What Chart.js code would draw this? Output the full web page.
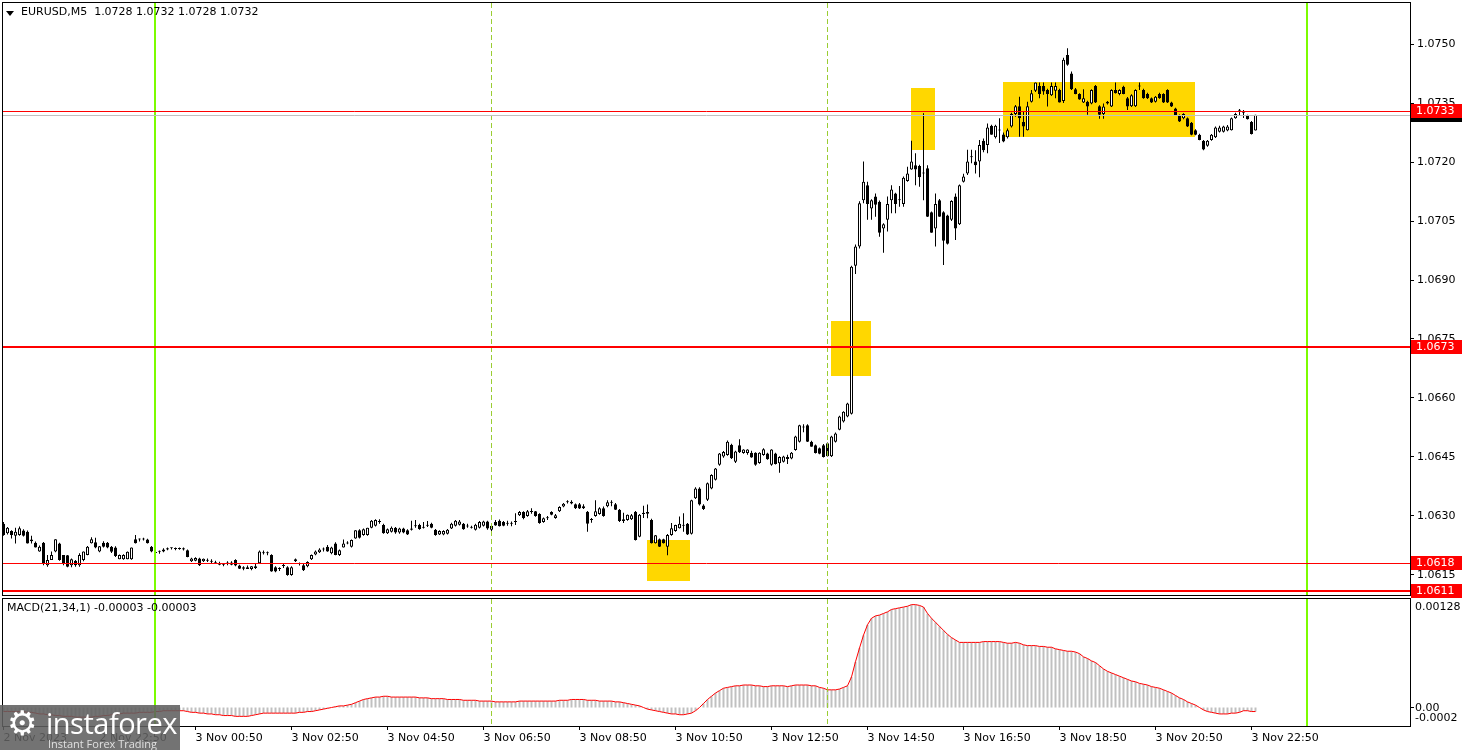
<!DOCTYPE html>
<html>
<head>
<meta charset="utf-8">
<script src="https://cdn.jsdelivr.net/npm/chart.js@4.4.1/dist/chart.umd.min.js"></script>
<style>
  html, body { margin: 0; padding: 0; background: #fff; }
  #wrap { position: relative; width: 1468px; height: 750px; overflow: hidden; font-family: 'DejaVu Sans', sans-serif; }
  #priceCanvas { position: absolute; left: 0; top: 0; z-index: 2; }
  #macdCanvas { position: absolute; left: 0; top: 598px; z-index: 1; }
  .caption { position: absolute; font-size: 11px; color: #000; white-space: pre; z-index: 3; }
  #tri { position: absolute; left: 6px; top: 11px; width: 0; height: 0; border-left: 4px solid transparent; border-right: 4px solid transparent; border-top: 5px solid #000; z-index: 3; }
  #logo { position: absolute; left: 0; top: 705px; width: 180px; height: 45px; background: rgba(96, 96, 96, 0.88); z-index: 4; color: #fff; }
  #logo .gear { position: absolute; left: 7px; top: 1px; font-size: 34px; line-height: 34px; font-family: 'DejaVu Sans'; color: #fff; }
  #logo .name { position: absolute; left: 46px; top: -2px; font-size: 29px; font-family: 'Open Sans', sans-serif; letter-spacing: -0.5px; }
  #logo .sub { position: absolute; left: 48px; top: 31px; font-size: 11px; font-family: 'Open Sans', sans-serif; color: #e0e0e0; }
</style>
</head>
<body>
<div id="wrap">
  <canvas id="priceCanvas" width="1468" height="612"></canvas>
  <canvas id="macdCanvas" width="1468" height="152"></canvas>
  <div id="tri"></div>
  <div class="caption" style="left:21px; top:5px;">EURUSD,M5  1.0728 1.0732 1.0728 1.0732</div>
  <div class="caption" style="left:7px; top:601px;">MACD(21,34,1) -0.00003 -0.00003</div>
  <div id="logo"><span class="gear">&#9881;</span><span class="name">instaforex</span><span class="sub">Instant Forex Trading</span></div>
</div>
<script>
// EURUSD M5 candles, [open, high, low, close] in pips above 1.0600
const candles = [
  [28,28.5,25,25.2],[25.6,27.2,25.3,27],[26.2,26.4,24.3,25.2],[25,27,23,26],[25.2,27.3,25,26.9],
  [26.3,26.6,24.8,25],[26,26.3,23,23],[24,25,23,23.6],[23.2,23.5,22,22],[21,22.5,20.9,22.2],
  [23.2,23.4,17.5,18],[17.5,20.1,17.1,18.8],[18.8,21,18.8,20.1],[21,24.1,20.8,24.1],[23,23.2,18.6,18.8],
  [20.1,20.1,17.5,18],[20,20.1,17,17.1],[17.5,19.2,17,19],[18.6,18.8,17.1,17.5],[17.5,20.5,17.1,20.1],
  [18.8,21,18.5,21],[20.1,22.4,20,22.2],[23.1,24.6,23,24.1],[23.3,24.5,21.8,22],[21,22.4,20.8,22.3],
  [23.2,23.6,22,22.2],[23.2,23.4,21.8,22],[22.2,22.4,20.6,20.9],[22,22.3,19.6,19.8],[19,20.2,19,20.1],
  [19,20.3,18.9,20.1],[19,21,19,20.9],[19,22,18.9,22],[24.1,25.2,23,23.1],[24,24.3,23.5,24],
  [24,24.5,23.8,24.1],[24,24.2,23,23.1],[22.2,22.4,20.8,21],[20.8,21,19,20.6],[20.9,21.2,20.4,20.9],
  [21,21.8,20.8,21.5],[21.5,22,21.3,21.8],[21.8,22,21.5,21.8],[21.8,22,21.3,21.6],[21.6,22,21.4,21.8],
  [21.8,22,21.2,21.5],[21.3,21.5,19.5,19.6],[18.5,19.4,18.3,19.2],[18.6,19.5,18.5,19.3],[19.2,19.4,17.3,17.5],
  [18.5,19.2,18.3,19.1],[18.6,19.2,18.3,18.6],[18.6,19,18,18.4],[18.2,18.6,17.8,18],[18,18.4,17.5,17.6],
  [17.6,18,17.2,17.8],[17.8,18.5,17.5,18.2],[18.2,18.5,17.5,17.6],[18.8,19,17.2,17.4],[17.4,17.6,16.5,16.6],
  [16.6,17.2,16.2,17],[17,17.4,16.5,16.5],[16.5,17.3,16.2,17.2],[17.2,17.8,16.5,16.8],[18,21.2,17.8,21],
  [20.8,21.2,20.2,20.5],[20.5,21,20,20.8],[20.1,20.3,15.8,15.9],[17,17.2,15.7,15.9],[16.5,17,16,16.5],
  [17.3,18,16.8,17.3],[17,17.2,14.8,15],[15,17.2,14.8,17],[18.5,19.2,18.3,19],[17.8,18.2,17.4,17.8],
  [17.5,17.8,16,16.2],[17.2,18.5,17,18.3],[19,20.2,18.8,20.1],[20.2,21.2,20,21],[20.8,21.8,20.6,21.5],
  [21.5,22,21,21.5],[22.2,22.6,20.9,21],[20.5,22.2,20.3,22],[23,23.3,20,20.1],[20.1,21.5,19.8,21.3],
  [22,24,22,23],[23,23.6,22.8,23.2],[22.2,24,22,23.9],[24.3,26.4,24.2,26.4],[26.4,26.6,24.3,24.5],
  [25.2,26.8,25,26.6],[25.2,27,25,27],[27,29,26.9,28.8],[27.5,29.2,27.3,29],[28.5,29.2,28,28.7],
  [27.7,28,25.5,25.6],[25.6,26.8,25.4,26.6],[26,27.3,25.8,27],[27,27.2,25.5,25.8],[25.8,27,25.5,26.8],
  [26.8,27,25.6,25.8],[26.4,26.6,25.2,25.3],[26.5,28.8,26.3,26.8],[27.5,29,27,27.4],[27.7,28,26.5,26.7],
  [27,28.5,26.8,27.2],[27.5,28.7,27.2,27.5],[28,28.3,26.9,27],[26.5,26.7,25,25.2],[25.3,26.4,25.2,26.2],
  [25.3,26.4,25.1,26.2],[25.5,26.7,25.3,26.5],[26.8,28.3,26.7,28],[27.5,29,27.3,28.8],[27.8,29,27.6,28.6],
  [28,28.2,26.5,26.6],[27.3,28,27,27.4],[27,27.5,26.8,27.1],[26.5,28,26.3,27.8],[27,28.7,26.8,28.5],
  [27.5,28.8,27.3,28.6],[28.6,28.8,26.5,26.8],[26.5,28,26.2,27.5],[28.5,29,27.5,27.6],[28.8,29.1,27.3,27.4],
  [28.5,28.7,27.4,27.5],[28,28.8,27.5,28.2],[28,28.6,27.4,28.2],[28.5,30.7,27.7,28.7],[30.2,31.3,30,31],
  [31,31.2,29.2,29.5],[30,31.5,29.8,31.2],[31,32,30.6,31.2],[31.2,31.3,29.8,30],[30.5,30.7,28,28.2],
  [28.5,29.6,28.3,29.4],[29.4,30,29,29.6],[31,31.2,30.2,30.3],[29.5,30.5,29.3,30.2],[31.2,32.5,31,32.3],
  [32.4,33.3,32.2,33.1],[33.5,34,33.2,33.6],[33.6,34,33,33.2],[33,33.2,31.8,32],[33,33.3,31.8,31.9],
  [32.5,33,31.8,32],[31.1,31.3,26,28],[29,29.5,28.3,29],[30,34,29.8,31.2],[30.5,32.2,30.3,32],
  [32,32.4,29.8,30],[32.5,34,32.2,33.5],[33.5,34,32.5,33.4],[33,33.3,31.5,31.6],[31.6,31.8,28.5,28.7],
  [28.7,30.8,28.2,29.2],[29,30.4,28.8,30.3],[29.2,30.5,29,30.2],[31.1,31.3,23.8,23.9],[24.7,30.5,24.6,30.3],
  [30.5,32.6,29.5,30.8],[31,32.9,29.4,30.6],[29,29.3,23,23.1],[23.1,25.2,23,25.1],[24.1,24.3,22.1,22.2],
  [24.1,24.2,23,23.1],[22.2,25.4,20,25.2],[25.2,28.2,25,26.9],[26.2,27.8,26,27.7],[26.9,29.9,26.8,28],
  [27.5,30.7,26,27.8],[28,28.2,25.2,25.3],[25.5,34.1,25.3,34],[34.5,37.3,34.3,37],[37,37.3,32.7,32.9],
  [32.7,33,31.5,31.8],[34.1,38.5,33.8,38.3],[37,40.6,36.8,40.4],[39.2,42.2,39,42.1],[43,46,42.8,45.9],
  [45.1,46.5,44.8,46.3],[45.5,49.2,45.3,48.9],[48.1,48.4,44.5,44.7],[43.8,46.6,43.5,46.4],[48,49.5,46,46.2],
  [46,47,45.8,46.9],[46,47,45.6,46.9],[46.1,46.6,44.8,44.9],[46.1,46.2,42.8,43],[43.5,46.2,43.3,46.1],
  [45.5,47.2,45.3,47],[45.9,46.1,44.3,44.4],[43,47,42.8,46.9],[45.9,46.1,43.1,43.2],[43.4,45.2,41,45],
  [43.8,45.3,43.6,45.1],[45,45.6,43.2,44.5],[44.6,46.3,44.4,46.1],[46.8,50.4,46.6,50.2],[48.9,53.2,48.7,53.1],
  [52.5,53.3,51.3,52.6],[53.1,53.3,48.8,48.9],[48.9,49.1,47.6,47.6],[48,48.2,45.9,46],[47.2,47.4,45.7,45.8],
  [48,48.3,44.9,45],[48.5,48.7,45.1,45.2],[45.2,50.4,45,50.2],[48.9,51.2,48.7,51],[51.9,55.5,51.8,55.3],
  [54,56.6,53.8,56.5],[55.3,58.8,55.1,58.6],[56,93.6,55.8,93.4],[93.6,99,91.5,98.5],[98.5,110,98,109.5],
  [110.3,120.1,109.5,115],[114.1,115,105.3,109.3],[108.2,110.5,105.3,110.3],[111.2,112,106.1,109.1],[109.9,110.2,101,102],
  [103.1,104.4,96.9,104.2],[105.3,111.2,102.3,109.3],[110.3,114.1,107,113],[112,112.2,107,109.3],[110.3,113.9,108.6,110.3],
  [109.3,116.3,108.6,116],[115.2,118.8,115,117.1],[118.1,125.4,118,120.1],[119.2,122.2,114.1,118.1],[119,119.3,113.7,116.1],
  [117.2,132.4,110.3,117.1],[118.4,119.2,106,106.1],[107.2,107.4,102,102],[103.1,112,98.5,109.3],[110.3,110.6,106.1,106.1],
  [107.2,107.5,93.8,100],[106.4,106.6,99,99.2],[105.3,110.3,105,110.1],[111.2,112,100.2,103.1],[104.2,114.3,104,114.1],
  [115,117,114.8,116.3],[117.1,123.1,116.7,120.1],[121.2,123.1,119.7,121.2],[120.1,123,117.1,119.2],[120.1,125.6,116.1,124.3],
  [125.4,126,122.5,123],[124.3,129.8,122.2,128.8],[129.2,129.5,126.9,126.9],[126.3,129.5,126,129.2],[128,131.1,124.8,128.1],
  [127,127.5,125,125.2],[126.3,128.5,126,128.1],[129,132.5,128.8,132.2],[132.2,134.5,131.5,134.2],[134.2,136.6,126.4,131.1],
  [130.2,132.8,126.4,129],[128.1,135.3,128,134.2],[135.3,138.3,135.1,137.5],[138.1,140.2,137.8,140.2],[139.3,140.2,136.2,137.3],
  [139.3,140.2,137.1,137.9],[138.3,138.6,134.1,137.3],[137,140.2,136.8,139.3],[138.1,140.2,136.2,139.3],[138.3,138.6,135.1,135.1],
  [135.5,146.5,135,146],[147.2,148.9,144.5,144.7],[142.5,143,138.3,138.5],[138.5,138.8,137.2,137.3],[137.3,137.5,135.8,135.9],
  [135.1,138.5,135,136.2],[135.3,135.6,132,134.1],[134.9,138.5,134.7,138.3],[139.3,139.6,135,135.1],[134.2,134.4,131,132],
  [132.2,134.9,131,134.1],[134.9,135.5,134.6,135.3],[134.1,138.5,134,138.3],[138.3,140.2,137.4,137.5],[137.3,138.5,137,138.3],
  [139.1,139.4,137.2,137.3],[136.2,136.5,133.2,134.1],[134.2,137.2,134,137],[134.2,138.5,134,138.3],[139.2,140.2,138.3,139.2],
  [138.3,138.6,136.1,136.2],[137.3,137.6,136,136.2],[136.2,136.4,135,135.1],[135.3,136.8,135.1,136.6],[137.3,137.6,136.1,136.2],
  [137.3,137.5,135,135.1],[138.3,138.5,135,135.1],[135.1,135.3,134,134.1],[133.6,133.8,131.8,131.9],[131.9,132.1,130.2,130.3],
  [131.1,132.4,130.9,132.2],[131.1,131.3,128.9,129],[130,130.2,126.8,126.9],[128.1,128.3,126.8,126.9],[126.9,127.2,125.5,125.6],
  [125.4,125.6,123,123.2],[124.1,125.6,123.9,125.4],[125.6,127.1,125.4,126.9],[126.3,129,126.1,128.8],[127.7,129.2,127.5,128.8],
  [127.7,129.2,127.5,129],[128,129.4,127.8,129],[128.1,131.3,128,131.1],[131.1,132.5,131,132.2],[133,133.5,131.8,133],
  [132.5,133.2,131.2,132.5],[131.7,132,130.8,130.9],[130.2,130.4,127,127.1],[128,132,128,132]
];

// MACD(21,34,1) main values, in units of 0.00001
const macd = [
  -5,-5,-5,-5,-5,-5,-6,-6,-7,-8,
  -8,-9,-9,-10,-10,-11,-11,-11,-12,-12,
  -12,-12,-12,-11,-11,-10,-10,-9,-8,-8,
  -7,-7,-7,-7,-6,-6,-6,-6,-5,-5,
  -4,-4,-4,-4,-4,-4,-5,-6,-6,-7,
  -7,-8,-8,-9,-9,-10,-10,-10,-11,-11,
  -11,-11,-10,-9,-8,-7,-7,-7,-7,-7,
  -7,-7,-7,-7,-6,-6,-5,-5,-4,-3,
  -2,-1,0,1,2,2,3,4,6,8,
  10,11,12,13,13,14,14,13,13,13,
  13,13,13,13,12,12,12,11,11,11,
  11,10,10,10,10,9,9,9,9,8,
  8,8,8,7,7,7,7,7,7,8,
  8,8,8,8,8,8,8,8,8,9,
  9,9,10,10,10,10,9,9,9,8,
  8,8,8,7,7,6,5,4,3,2,
  0,-2,-3,-4,-5,-6,-7,-8,-8,-9,
  -9,-8,-7,-4,0,5,10,14,18,21,
  24,25,26,27,27,28,28,28,27,27,
  26,26,27,27,27,27,26,27,28,28,
  28,28,27,27,25,24,22,22,22,23,
  25,27,38,57,74,90,103,111,114,115,
  117,119,122,123,124,125,126,128,128,127,
  125,117,111,106,101,96,91,87,84,81,
  81,81,81,81,81,82,82,82,82,82,
  81,80,80,81,80,78,77,77,77,76,
  76,75,75,73,72,71,70,70,69,67,
  63,61,58,56,52,48,45,43,41,39,
  37,35,33,32,30,29,28,26,25,24,
  22,20,18,15,12,10,7,5,3,0,
  -3,-5,-6,-7,-8,-8,-8,-7,-7,-6,
  -4,-4,-5,-5
];

const priceTicks = [1.0615, 1.0630, 1.0645, 1.0660, 1.0675, 1.0690, 1.0705, 1.0720, 1.0735, 1.0750];
const timeTicks = [0, 24, 48, 72, 96, 120, 144, 168, 192, 216, 240, 264, 288, 312];
const timeLabels = ['2 Nov 2023', '2 Nov 22:50', '3 Nov 00:50', '3 Nov 02:50', '3 Nov 04:50', '3 Nov 06:50',
  '3 Nov 08:50', '3 Nov 10:50', '3 Nov 12:50', '3 Nov 14:50', '3 Nov 16:50', '3 Nov 18:50', '3 Nov 20:50', '3 Nov 22:50'];
const macdTicks = [0.00128, 0, -0.0002];
const levels = [1.0733, 1.0673, 1.0618, 1.0611];
const bidPrice = 1.0732;
const daySeparators = [38, 326];   // candle index of 00:00
const periodMarks = [122, 206];    // candle index of 07:00 and 14:00
// highlighted zones: [first candle, last candle, low price, high price]
const zones = [
  [160.9, 171.6, 1.06135, 1.06239],
  [206.9, 216.9, 1.06656, 1.06796],
  [226.9, 232.9, 1.07231, 1.07388],
  [249.9, 297.9, 1.07264, 1.07403]
];

const pipBase = 1.06;
const toPrice = v => +(pipBase + v / 10000).toFixed(5);

// visible range of the time axis (4 px per candle)
const xMin = -0.125, xMax = 351.625;
const priceMin = 1.0609915, priceMax = 1.0760424;
const macdMin = -0.00023, macdMax = 0.00135;
const heavyLevels = [1.0673, 1.0611];
const FONT = { family: 'DejaVu Sans', size: 11 };

const bodyData = candles.map((c, i) => ({ x: i, y: [toPrice(c[0]), toPrice(c[3])] }));
const wickData = candles.map((c, i) => ({ x: i, y: [toPrice(c[2]), toPrice(c[1])] }));
const bodyFill = candles.map(c => c[3] >= c[0] ? '#ffffff' : '#000000');

// keep the plot area exactly where the layout padding puts it
function noLabelPadding(s) {
  s.paddingTop = 0; s.paddingBottom = 0; s.paddingLeft = 0; s.paddingRight = 0;
}

function vLines(chart) {
  const { ctx, chartArea: a, scales: { x } } = chart;
  ctx.save();
  ctx.beginPath();
  ctx.rect(a.left, a.top, a.right - a.left, a.bottom - a.top);
  ctx.clip();
  periodMarks.forEach(i => {
    const px = Math.floor(x.getPixelForValue(i)) + 0.5;
    ctx.strokeStyle = '#9acd32';
    ctx.lineWidth = 1;
    ctx.setLineDash([5, 3]);
    ctx.beginPath(); ctx.moveTo(px, a.top); ctx.lineTo(px, a.bottom); ctx.stroke();
  });
  ctx.setLineDash([]);
  daySeparators.forEach(i => {
    const px = Math.floor(x.getPixelForValue(i));
    ctx.strokeStyle = '#7cfc00';
    ctx.lineWidth = 2;
    ctx.beginPath(); ctx.moveTo(px, a.top); ctx.lineTo(px, a.bottom); ctx.stroke();
  });
  ctx.restore();
}

function frame(chart) {
  const { ctx, chartArea: a } = chart;
  ctx.save();
  ctx.strokeStyle = '#000';
  ctx.lineWidth = 1;
  ctx.strokeRect(a.left - 0.5, a.top - 0.5, a.right - a.left + 1, a.bottom - a.top + 1);
  ctx.restore();
}

const pricePlugin = {
  id: 'priceExtras',
  beforeDatasetsDraw(chart) {
    const { ctx, chartArea: a, scales: { x, y } } = chart;
    ctx.save();
    ctx.beginPath(); ctx.rect(a.left, a.top, a.right - a.left, a.bottom - a.top); ctx.clip();
    ctx.fillStyle = '#ffd700';
    zones.forEach(z => {
      const x1 = Math.round(x.getPixelForValue(z[0])), x2 = Math.round(x.getPixelForValue(z[1]));
      const y1 = Math.round(y.getPixelForValue(z[3])), y2 = Math.round(y.getPixelForValue(z[2]));
      ctx.fillRect(x1, y1, x2 - x1, y2 - y1);
    });
    ctx.restore();
  },
  afterDatasetsDraw(chart) {
    const { ctx, chartArea: a, scales: { y } } = chart;
    vLines(chart);
    ctx.save();
    const by = Math.round(y.getPixelForValue(bidPrice)) + 0.5;
    ctx.strokeStyle = '#c0c0c0'; ctx.lineWidth = 1;
    ctx.beginPath(); ctx.moveTo(a.left, by); ctx.lineTo(a.right, by); ctx.stroke();
    levels.forEach(l => {
      const w = heavyLevels.includes(l) ? 2 : 1;
      const ly = Math.round(y.getPixelForValue(l)) + (w === 1 ? 0.5 : 0);
      ctx.strokeStyle = '#ff0000'; ctx.lineWidth = w;
      ctx.beginPath(); ctx.moveTo(a.left, ly); ctx.lineTo(a.right, ly); ctx.stroke();
    });
    ctx.restore();
  },
  afterDraw(chart) {
    const { ctx, chartArea: a, scales: { y } } = chart;
    frame(chart);
    ctx.save();
    ctx.font = '11px "DejaVu Sans"';
    ctx.textBaseline = 'middle';
    const tag = (p, bg) => {
      const py = Math.round(y.getPixelForValue(p));
      ctx.fillStyle = bg;
      ctx.fillRect(a.right + 1, py - 7, 51, 14);
      ctx.fillStyle = '#fff';
      ctx.fillText(p.toFixed(4), a.right + 6, py + 0.5);
    };
    tag(bidPrice, '#000');
    levels.forEach(l => tag(l, '#ff0000'));
    ctx.restore();
  }
};

new Chart(document.getElementById('priceCanvas'), {
  type: 'bar',
  data: {
    datasets: [
      {
        label: 'body', data: bodyData, backgroundColor: bodyFill, borderColor: '#000', borderWidth: 1,
        borderSkipped: false, barThickness: 3, minBarLength: 1, grouped: false, inflateAmount: 0, order: 0
      },
      {
        label: 'wick', data: wickData, backgroundColor: '#000', borderWidth: 0,
        barThickness: 1, grouped: false, inflateAmount: 0, order: 1
      }
    ]
  },
  options: {
    responsive: false,
    animation: false,
    events: [],
    layout: { padding: { left: 3, top: 3, right: 0, bottom: 17 } },
    plugins: { legend: { display: false }, tooltip: { enabled: false } },
    scales: {
      x: { type: 'linear', min: xMin, max: xMax, offset: false, grid: { offset: false }, display: false },
      y: {
        type: 'linear', position: 'right', min: priceMin, max: priceMax,
        afterBuildTicks: s => { s.ticks = priceTicks.map(v => ({ value: v })); },
        afterFit: s => { s.width = 58; noLabelPadding(s); },
        grid: { drawOnChartArea: false, tickLength: 4, color: '#000' },
        border: { display: false },
        ticks: { color: '#000', font: FONT, padding: 3, callback: v => v.toFixed(4) }
      }
    }
  },
  plugins: [pricePlugin]
});

const macdPlugin = {
  id: 'macdExtras',
  afterDatasetsDraw(chart) { vLines(chart); },
  afterDraw(chart) {
    const { ctx, chartArea: a, scales: { y } } = chart;
    frame(chart);
    ctx.save();
    ctx.font = '11px "DejaVu Sans"';
    ctx.fillStyle = '#000';
    ctx.textBaseline = 'middle';
    macdTicks.forEach(v => {
      const py = Math.min(Math.max(y.getPixelForValue(v), a.top + 8), a.bottom - 8);
      if (v === 0) {
        ctx.fillRect(a.right, Math.round(py) - 1, 4, 1);
      }
      ctx.fillText(v === 0 ? '0.00' : String(v), a.right + 5, py + 0.5);
    });
    ctx.restore();
  }
};

new Chart(document.getElementById('macdCanvas'), {
  type: 'bar',
  data: {
    datasets: [
      {
        type: 'line', label: 'signal', data: macd.map((m, i) => ({ x: i, y: m / 100000 })),
        borderColor: '#ff0000', borderWidth: 1, pointRadius: 0, tension: 0, order: 0
      },
      {
        label: 'macd', data: macd.map((m, i) => ({ x: i, y: m / 100000 })),
        backgroundColor: '#c0c0c0', barThickness: 2, grouped: false, inflateAmount: 0, order: 1
      }
    ]
  },
  options: {
    responsive: false,
    animation: false,
    events: [],
    layout: { padding: { left: 3, top: 1, right: 0, bottom: 0 } },
    plugins: { legend: { display: false }, tooltip: { enabled: false } },
    scales: {
      x: {
        type: 'linear', position: 'bottom', min: xMin, max: xMax, offset: false,
        afterBuildTicks: s => { s.ticks = timeTicks.map(v => ({ value: v })); },
        afterFit: s => { s.height = 24; noLabelPadding(s); },
        grid: { drawOnChartArea: false, tickLength: 4, color: '#000', offset: false },
        border: { display: false },
        ticks: {
          align: 'start', maxRotation: 0, minRotation: 0, autoSkip: false, padding: 2,
          color: '#000', font: FONT, callback: (v, i) => timeLabels[i]
        }
      },
      y: {
        type: 'linear', position: 'right', min: macdMin, max: macdMax,
        afterFit: s => { s.width = 58; noLabelPadding(s); },
        grid: { display: false },
        border: { display: false },
        ticks: { display: false }
      }
    }
  },
  plugins: [macdPlugin]
});
</script>
</body>
</html>
